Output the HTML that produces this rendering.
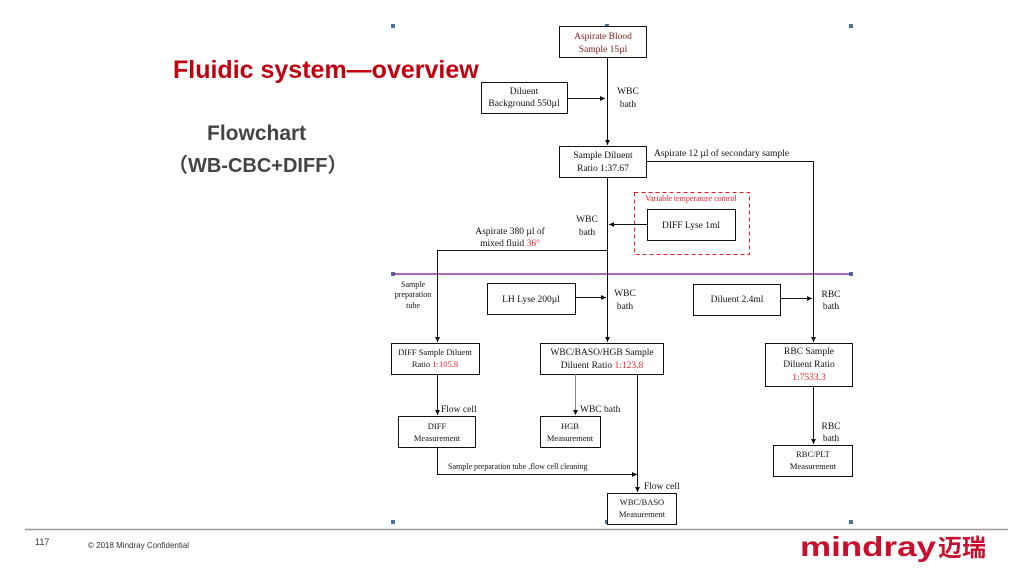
<!DOCTYPE html>
<html><head><meta charset="utf-8"><style>
html,body{margin:0;padding:0;background:#fff;}
svg{display:block;}
.t{font-family:"Liberation Serif",serif;font-size:9.5px;fill:#111;}
.s{font-family:"Liberation Serif",serif;font-size:8px;fill:#111;}
.r{fill:#e8202a;}
</style></head><body>
<svg width="1024" height="574" viewBox="0 0 1024 574" xmlns="http://www.w3.org/2000/svg">
<defs><marker id="a" markerWidth="6" markerHeight="6" refX="5" refY="3" orient="auto" markerUnits="userSpaceOnUse"><path d="M0,0.5 L5,3 L0,5.5z" fill="#111"/></marker></defs>
<text x="173" y="78" font-family="Liberation Sans,sans-serif" font-weight="bold" font-size="25" fill="#c00010">Fluidic system—overview</text>
<text x="207" y="140" font-family="Liberation Sans,sans-serif" font-weight="bold" font-size="21" fill="#444">Flowchart</text>
<text x="168" y="172" font-family="Liberation Sans,'Noto Sans CJK SC',sans-serif" font-weight="bold" font-size="20" fill="#444">（WB-CBC+DIFF）</text>
<g fill="#4a6fa5"><rect x="391" y="24" width="4" height="4"/><rect x="605" y="24" width="4" height="4"/><rect x="849" y="24" width="4" height="4"/><rect x="391" y="272" width="4" height="4"/><rect x="849" y="272" width="4" height="4"/><rect x="391" y="520" width="4" height="4"/><rect x="605" y="520" width="4" height="4"/><rect x="849" y="520" width="4" height="4"/></g>
<line x1="393" y1="274" x2="851" y2="274" stroke="#8a3a9a" stroke-width="1.5"/>
<g fill="#fff" stroke="#111" stroke-width="1">
<rect x="559.5" y="26.5" width="87" height="31"/>
<rect x="481.5" y="82.5" width="86" height="31"/>
<rect x="559.5" y="146.5" width="87" height="31"/>
<rect x="647.5" y="209.5" width="88" height="31"/>
<rect x="487.5" y="283.5" width="88" height="31"/>
<rect x="693.5" y="284.5" width="87" height="31"/>
<rect x="391.5" y="343.5" width="88" height="31"/>
<rect x="540.5" y="343.5" width="123" height="31"/>
<rect x="765.5" y="343.5" width="87" height="43"/>
<rect x="398.5" y="416.5" width="77" height="31"/>
<rect x="540.5" y="416.5" width="60" height="31"/>
<rect x="773.5" y="445.5" width="79" height="31"/>
<rect x="607.5" y="493.5" width="69" height="31"/>
</g>
<rect x="634.5" y="192.5" width="115" height="62" fill="none" stroke="#e8202a" stroke-dasharray="4,3"/>
<g stroke="#111" stroke-width="1" fill="none">
<line x1="607.5" y1="57" x2="607.5" y2="145" marker-end="url(#a)"/>
<line x1="567" y1="98.5" x2="605" y2="98.5" marker-end="url(#a)"/>
<polyline points="646,161.5 813.5,161.5 813.5,342" marker-end="url(#a)"/>
<line x1="607.5" y1="177" x2="607.5" y2="342" marker-end="url(#a)"/>
<line x1="647" y1="224.5" x2="609" y2="224.5" marker-end="url(#a)"/>
<polyline points="607.5,250.5 437.5,250.5 437.5,342" marker-end="url(#a)"/>
<line x1="575" y1="297.5" x2="606" y2="297.5" marker-end="url(#a)"/>
<line x1="780" y1="298.5" x2="812" y2="298.5" marker-end="url(#a)"/>
<line x1="437.5" y1="374" x2="437.5" y2="415" marker-end="url(#a)"/>
<line x1="575.5" y1="374" x2="575.5" y2="415" stroke="#888" marker-end="url(#a)"/>
<line x1="813.5" y1="386" x2="813.5" y2="444" marker-end="url(#a)"/>
<polyline points="437.5,447 437.5,474.5 637,474.5" marker-end="url(#a)"/>
<line x1="637.5" y1="374" x2="637.5" y2="492" marker-end="url(#a)"/>
</g>
<g class="t" text-anchor="middle">
<text x="603" y="39" fill="#8b1a1a">Aspirate Blood</text>
<text x="603" y="52" fill="#8b1a1a">Sample 15µl</text>
<text x="524" y="94">Diluent</text>
<text x="524" y="106">Background 550µl</text>
<text x="603" y="158">Sample Diluent</text>
<text x="603" y="171">Ratio 1:37.67</text>
<text x="691" y="228">DIFF Lyse 1ml</text>
<text x="531" y="302">LH Lyse 200µl</text>
<text x="737" y="302">Diluent 2.4ml</text>
<text x="435" y="355" font-size="8.5">DIFF Sample Diluent</text>
<text x="435" y="367" font-size="8.5">Ratio <tspan class="r">1:105.8</tspan></text>
<text x="602" y="355">WBC/BASO/HGB Sample</text>
<text x="602" y="368">Diluent Ratio <tspan class="r">1:123.8</tspan></text>
<text x="809" y="354">RBC Sample</text>
<text x="809" y="367">Diluent Ratio</text>
<text x="809" y="380" class="r">1:7533.3</text>
<text x="437" y="429" font-size="8.5">DIFF</text>
<text x="437" y="441" font-size="8.5">Measurement</text>
<text x="570" y="429" font-size="8.5">HGB</text>
<text x="570" y="441" font-size="8.5">Measurement</text>
<text x="813" y="457" font-size="8.5">RBC/PLT</text>
<text x="813" y="469" font-size="8.5">Measurement</text>
<text x="642" y="505" font-size="8.5">WBC/BASO</text>
<text x="642" y="517" font-size="8.5">Measurement</text>
<text x="628" y="94">WBC</text><text x="628" y="107">bath</text>
<text x="587" y="222">WBC</text><text x="587" y="235">bath</text>
<text x="625" y="296">WBC</text><text x="625" y="309">bath</text>
<text x="831" y="297">RBC</text><text x="831" y="309">bath</text>
<text x="831" y="429">RBC</text><text x="831" y="441">bath</text>
<text x="510" y="234">Aspirate 380 µl of</text>
<text x="510" y="246">mixed fluid <tspan class="r">36°</tspan></text>
</g>
<text x="654" y="156" class="t">Aspirate 12 µl of secondary sample</text>
<text x="691" y="201" class="s r" text-anchor="middle">Variable temperature control</text>
<g class="s" text-anchor="middle"><text x="413" y="287">Sample</text><text x="413" y="297">preparation</text><text x="413" y="308">tube</text></g>
<text x="441" y="412" class="t">Flow cell</text>
<text x="580" y="412" class="t">WBC bath</text>
<text x="448" y="469" class="s">Sample preparation tube ,flow cell cleaning</text>
<text x="644" y="489" class="t">Flow cell</text>
<line x1="25" y1="529.5" x2="1008" y2="529.5" stroke="#999" stroke-width="1.5"/>
<text x="35" y="545" font-family="Liberation Sans,sans-serif" font-size="9" fill="#333">117</text>
<text x="88" y="548" font-family="Liberation Sans,sans-serif" font-size="8" fill="#333">© 2018 Mindray Confidential</text>
<text x="800" y="556" font-family="Liberation Sans,sans-serif" font-weight="bold" font-size="28" fill="#c8102e" textLength="136" lengthAdjust="spacingAndGlyphs">mindray</text>
<text x="938" y="556" font-family="'Noto Sans CJK SC',sans-serif" font-weight="bold" font-size="24" fill="#c8102e">迈瑞</text>
</svg>
</body></html>
